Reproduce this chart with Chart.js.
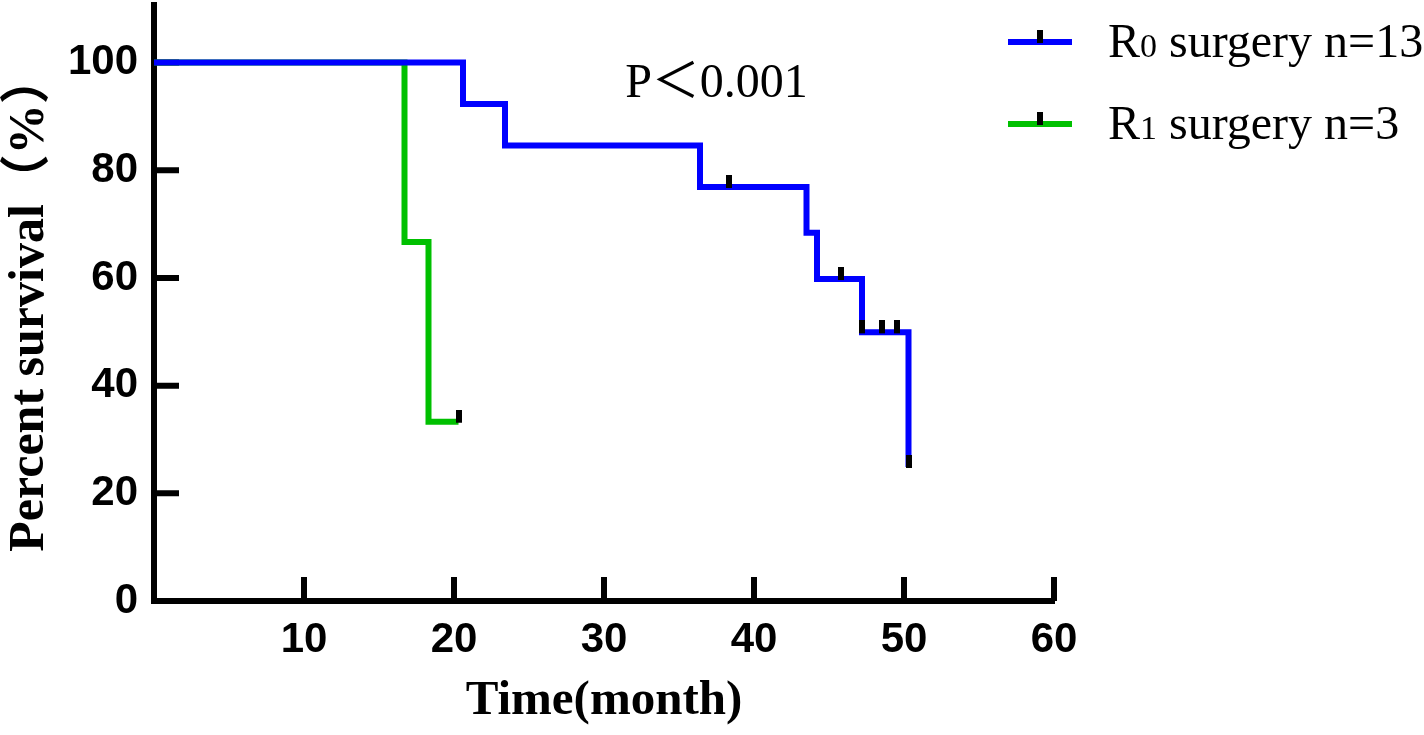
<!DOCTYPE html>
<html>
<head>
<meta charset="utf-8">
<script src="https://cdn.jsdelivr.net/npm/chart.js@4.4.0/dist/chart.umd.min.js"></script>
<style>
  html, body { margin: 0; padding: 0; background: #fff; }
</style>
</head>
<body>
<canvas id="kmChart" width="1424" height="735"></canvas>
<script>
// survival steps (time in months, percent survival after the event)
const r0Times = [0, 20.6, 23.4, 36.4, 43.5, 44.2, 47.2, 50.3];
const r0Surv = [100, 92.3, 84.6, 76.9, 68.4, 59.8, 49.9, 24.9];
const r0Censored = [38.3, 45.8, 47.2, 48.5, 49.5, 50.3];
const r1Times = [0, 16.7, 18.3, 20.3];
const r1Surv = [100, 66.7, 33.3, 33.3];
const r1Censored = [20.3];
const xTicks = [10, 20, 30, 40, 50, 60];
const yTicks = [0, 20, 40, 60, 80, 100];
const groupNames = ['R', 'R'];
const groupSubs = ['0', '1'];
const groupRest = [' surgery n=13', ' surgery n=3'];
const pText = 'P\uFF1C0.001';

const blue = '#0000ff';
const green = '#00c000';

// small black censor tick, drawn above the point
function makeMark() {
  const c = document.createElement('canvas');
  c.width = 6;
  c.height = 24;
  const g = c.getContext('2d');
  g.fillStyle = '#000';
  g.fillRect(0, 0, 6, 13);
  return c;
}
const mark = makeMark();

const toPts = (xs, ys) => xs.map((x, i) => ({ x: x, y: ys[i] }));
function survAt(xs, ys, t) {
  let s = ys[0];
  xs.forEach((x, i) => { if (x <= t) s = ys[i]; });
  return s;
}

const innerTicks = {
  id: 'innerTicks',
  beforeDatasetsDraw(chart) {
    const { ctx, chartArea: a, scales: { x, y } } = chart;
    ctx.save();
    ctx.strokeStyle = '#000';
    ctx.lineWidth = 6;
    ctx.beginPath();
    x.ticks.forEach(t => {
      const px = x.getPixelForValue(t.value);
      ctx.moveTo(px, a.bottom);
      ctx.lineTo(px, a.bottom - 24);
    });
    y.ticks.forEach(t => {
      if (t.value === 0) return;
      const py = y.getPixelForValue(t.value);
      ctx.moveTo(a.left, py);
      ctx.lineTo(a.left + 25, py);
    });
    ctx.stroke();
    // close the corner where the two axis lines meet
    ctx.fillStyle = '#000';
    ctx.fillRect(a.left - 3, a.bottom - 3, 6, 6);
    ctx.restore();
  }
};

const sideLegend = {
  id: 'sideLegend',
  afterDraw(chart) {
    const { ctx, chartArea: a, scales: { x, y } } = chart;
    ctx.save();
    // p value
    ctx.fillStyle = '#000';
    ctx.font = '48px "Liberation Serif", "Noto Sans CJK SC"';
    ctx.textAlign = 'center';
    ctx.textBaseline = 'alphabetic';
    ctx.fillText(pText, x.getPixelForValue(37.5), y.getPixelForValue(93.6));

    const curves = chart.data.datasets.filter(d => d.isCurve);
    curves.forEach((d, i) => {
      const cy = 42 + i * 82;
      const x0 = a.right - 46;
      ctx.strokeStyle = d.borderColor;
      ctx.lineWidth = 6;
      ctx.beginPath();
      ctx.moveTo(x0, cy);
      ctx.lineTo(x0 + 64, cy);
      ctx.stroke();
      ctx.drawImage(mark, x0 + 29, cy - 12);

      let tx = x0 + 100;
      const base = cy + 15;
      ctx.textAlign = 'left';
      ctx.fillStyle = '#000';
      ctx.font = '48px "Liberation Serif"';
      ctx.fillText(groupNames[i], tx, base);
      tx += ctx.measureText(groupNames[i]).width;
      ctx.font = '34px "Liberation Serif"';
      ctx.fillText(groupSubs[i], tx, base);
      tx += ctx.measureText(groupSubs[i]).width;
      ctx.font = '48px "Liberation Serif"';
      ctx.fillText(groupRest[i], tx, base);
    });
    ctx.restore();
  }
};

const tickFont = { family: '"Liberation Sans", Arial', size: 42, weight: 'bold' };
const xTitleFont = { family: '"Liberation Serif", "Noto Sans CJK SC"', size: 49, weight: 'bold' };
const yTitleFont = { family: '"Liberation Serif", "Noto Sans CJK SC"', size: 50, weight: 'bold' };

new Chart(document.getElementById('kmChart'), {
  type: 'line',
  data: {
    datasets: [
      {
        label: 'R0 surgery n=13',
        isCurve: true,
        data: toPts(r0Times, r0Surv),
        borderColor: blue,
        borderWidth: 6,
        stepped: true,
        pointRadius: 0,
        fill: false,
        order: 0
      },
      {
        label: 'R1 surgery n=3',
        isCurve: true,
        data: toPts(r1Times, r1Surv),
        borderColor: green,
        borderWidth: 6,
        stepped: true,
        pointRadius: 0,
        fill: false,
        order: 0
      },
      {
        label: 'R0 censored',
        type: 'scatter',
        data: r0Censored.map(t => ({ x: t, y: survAt(r0Times, r0Surv, t) })),
        pointStyle: mark,
        showLine: false,
        order: -1
      },
      {
        label: 'R1 censored',
        type: 'scatter',
        data: r1Censored.map(t => ({ x: t, y: survAt(r1Times, r1Surv, t) })),
        pointStyle: mark,
        showLine: false,
        order: -1
      }
    ]
  },
  options: {
    responsive: false,
    animation: false,
    devicePixelRatio: 1,
    layout: { padding: { left: 0, top: 0, right: 370, bottom: 0 } },
    plugins: {
      legend: { display: false },
      tooltip: { enabled: false }
    },
    scales: {
      x: {
        type: 'linear',
        min: 0,
        max: 60,
        afterBuildTicks: s => { s.ticks = xTicks.map(v => ({ value: v })); },
        afterFit: s => { s.height = 134; s.paddingLeft = 0; s.paddingRight = 0; },
        grid: { drawOnChartArea: false, drawTicks: false },
        border: { display: true, width: 6, color: '#000' },
        ticks: { font: tickFont, color: '#000', padding: 14, maxRotation: 0, autoSkip: false },
        title: { display: true, text: 'Time(month)', font: xTitleFont, color: '#000', padding: { top: 0, bottom: 4 } }
      },
      y: {
        min: 0,
        max: 110.7,
        afterBuildTicks: s => { s.ticks = yTicks.map(v => ({ value: v })); },
        afterFit: s => { s.width = 154; s.paddingTop = 0; s.paddingBottom = 0; },
        grid: { drawOnChartArea: false, drawTicks: false },
        border: { display: true, width: 6, color: '#000' },
        ticks: { font: tickFont, color: '#000', padding: 16, autoSkip: false },
        title: { display: true, text: 'Percent survival\uFF08%\uFF09', font: yTitleFont, color: '#000', padding: { top: 0, bottom: 0 } }
      }
    }
  },
  plugins: [innerTicks, sideLegend]
});
</script>
</body>
</html>
